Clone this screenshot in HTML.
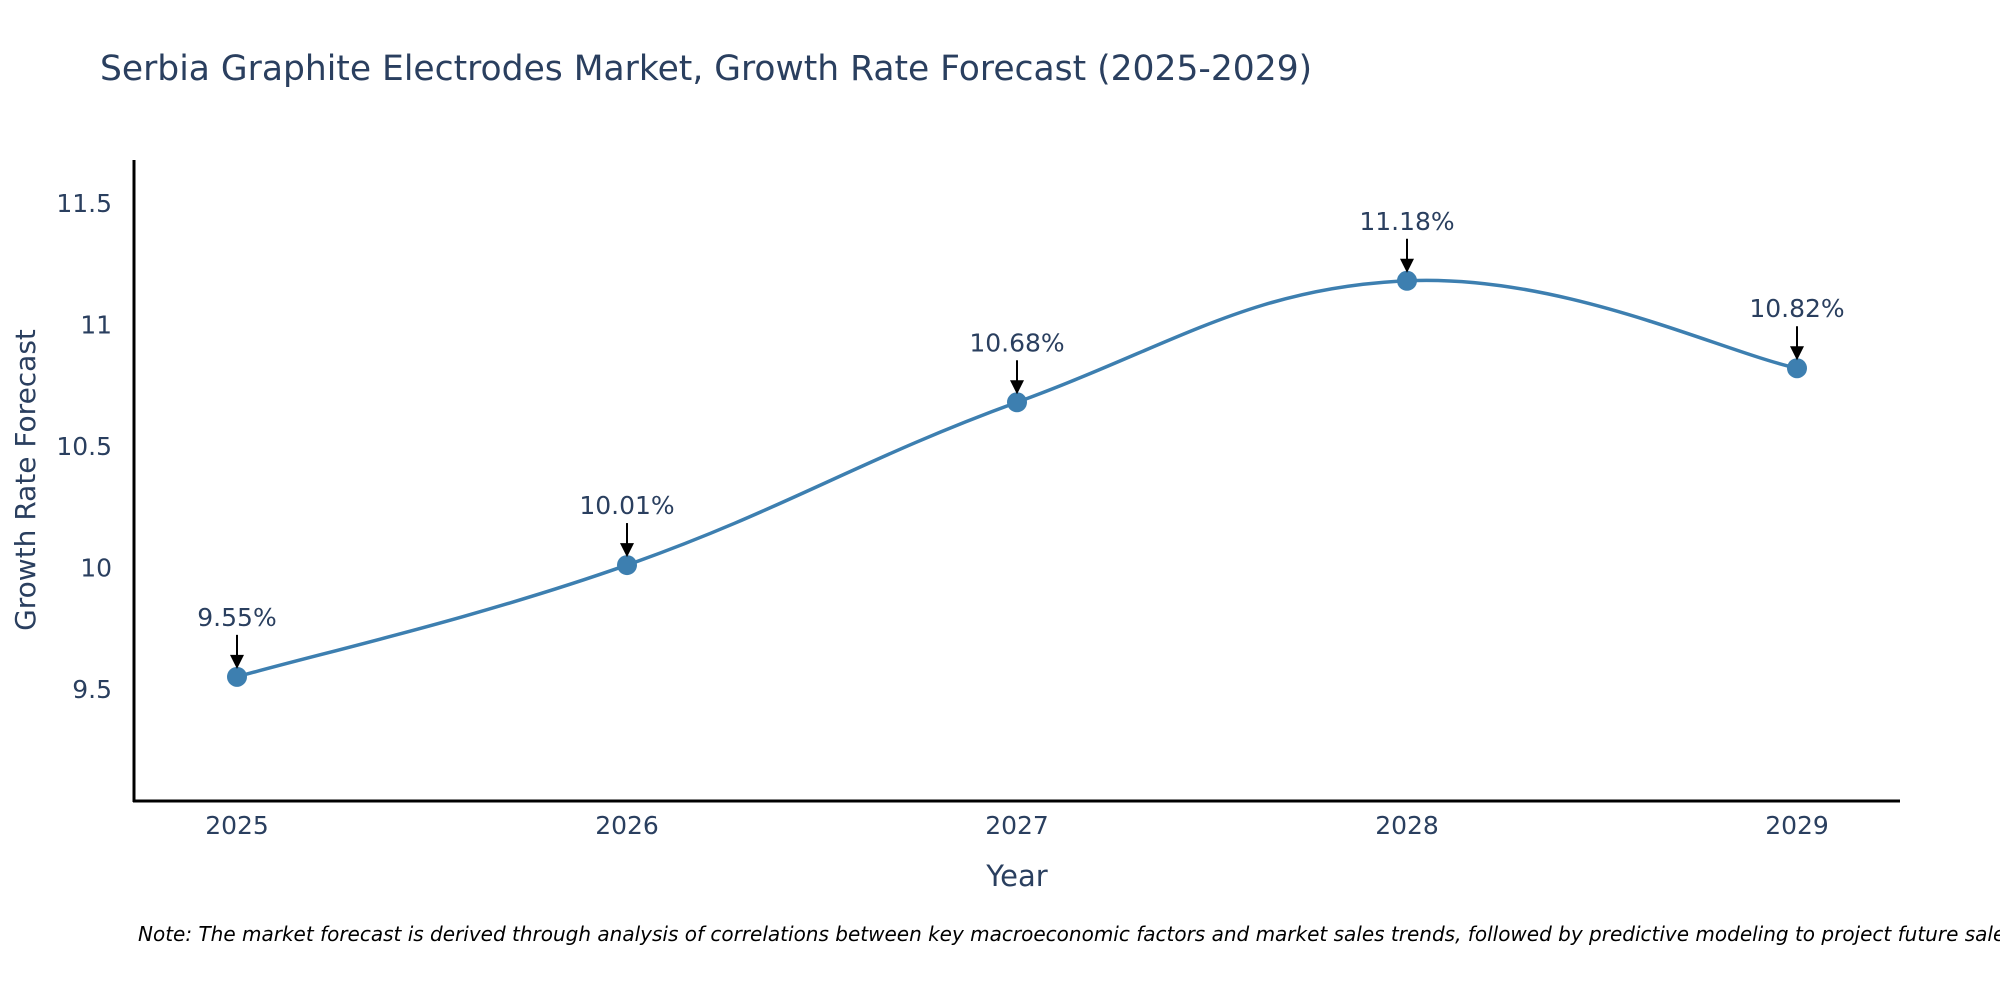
<!DOCTYPE html>
<html><head><meta charset="utf-8">
<style>
html,body{margin:0;padding:0;background:#fff;}
svg{display:block;font-family:"DejaVu Sans","Liberation Sans",sans-serif;}
</style></head>
<body>
<svg id="chart" width="2000" height="1000" viewBox="0 0 2000 1000" xmlns="http://www.w3.org/2000/svg">
<text x="100" y="80" font-size="34.5" fill="#2a3f5f">Serbia Graphite Electrodes Market, Growth Rate Forecast (2025-2029)</text>
<g id="yticks"></g>
<g id="xticks"></g>
<line x1="134" y1="160" x2="134" y2="802" stroke="#000" stroke-width="3"/>
<line x1="133" y1="801" x2="1900" y2="801" stroke="#000" stroke-width="3"/>
<text transform="translate(35,480) rotate(-90)" text-anchor="middle" font-size="28" fill="#2a3f5f">Growth Rate Forecast</text>
<text x="1017" y="886" text-anchor="middle" font-size="29" fill="#2a3f5f">Year</text>
<path id="line" fill="none" stroke="#3d7fb0" stroke-width="3.5"/>
<g id="points"></g>
<g id="annos"></g>
<text x="138" y="941" font-size="20" font-style="italic" fill="#000">Note: The market forecast is derived through analysis of correlations between key macroeconomic factors and market sales trends, followed by predictive modeling to project future sales.</text>
</svg>
<script>
const years = [2025, 2026, 2027, 2028, 2029];
const rates = [9.55, 10.01, 10.68, 11.18, 10.82];
const rateLabels = ["9.55%", "10.01%", "10.68%", "11.18%", "10.82%"];
const yTickValues = [9.5, 10, 10.5, 11, 11.5];
const yTickLabels = ["9.5", "10", "10.5", "11", "11.5"];

const NS = "http://www.w3.org/2000/svg";
function xs(v){ return 237 + (v - 2025) * 390; }
function ys(v){ return 567.5 - (v - 10) * 243; }
function mk(tag, attrs, parent){ const e=document.createElementNS(NS,tag); for(const k in attrs) e.setAttribute(k,attrs[k]); parent.appendChild(e); return e; }

const yt = document.getElementById('yticks');
yTickValues.forEach((v,i)=>{
  const t = mk('text',{x:112,y:ys(v)+9,'text-anchor':'end','font-size':25,fill:'#2a3f5f'},yt);
  
  
  t.textContent = yTickLabels[i];
});
const xt = document.getElementById('xticks');
years.forEach(y=>{
  const t = mk('text',{x:xs(y),y:834,'text-anchor':'middle','font-size':25,fill:'#2a3f5f'},xt);
  
  
  t.textContent = String(y);
});

const P = years.map((y,i)=>[xs(y), ys(rates[i])]);
let d = `M${P[0][0]},${P[0][1]}`;
const s = 0.2;
for(let i=0;i<P.length-1;i++){
  const p0=P[Math.max(i-1,0)], p1=P[i], p2=P[i+1], p3=P[Math.min(i+2,P.length-1)];
  const c1=[p1[0]+(p2[0]-p0[0])*s, p1[1]+(p2[1]-p0[1])*s];
  const c2=[p2[0]-(p3[0]-p1[0])*s, p2[1]-(p3[1]-p1[1])*s];
  d += ` C${c1[0]},${c1[1]} ${c2[0]},${c2[1]} ${p2[0]},${p2[1]}`;
}
document.getElementById('line').setAttribute('d', d);

const pts = document.getElementById('points');
const an = document.getElementById('annos');
years.forEach((y,i)=>{
  const cx=xs(y), cy=ys(rates[i]);
  const c = mk('circle',{cx:cx,cy:cy,r:10,fill:'#3d7fb0'},pts);
  
  
  const l = mk('line',{x1:cx,y1:cy-42,x2:cx,y2:cy-18,stroke:'#000','stroke-width':2},an);
  
  
  const h = mk('path',{d:`M${cx-7},${cy-22} L${cx+7},${cy-22} L${cx},${cy-8} Z`,fill:'#000'},an);
  
  
  const t = mk('text',{x:cx,y:cy-51,'text-anchor':'middle','font-size':25,fill:'#2a3f5f'},an);
  
  
  t.textContent = rateLabels[i];
});
</script>
</body></html>
